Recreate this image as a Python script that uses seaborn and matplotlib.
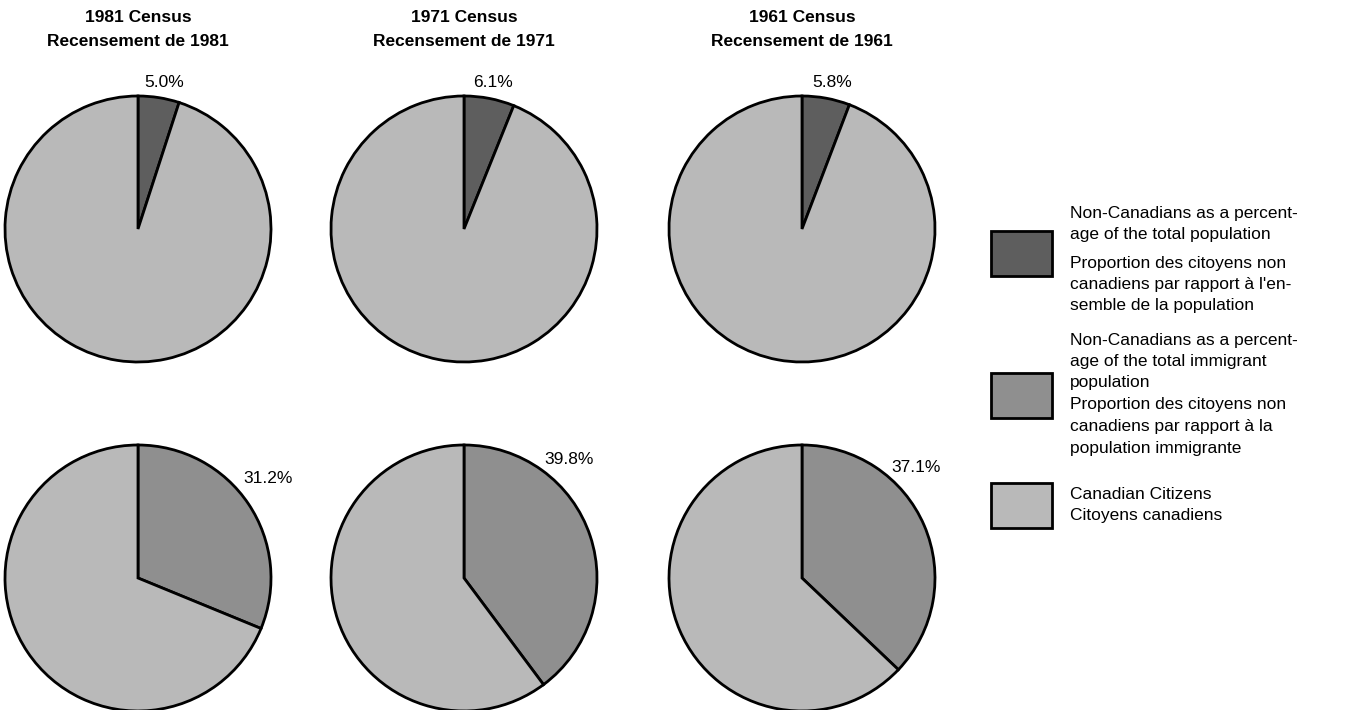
import matplotlib
matplotlib.use("Agg")
import matplotlib.pyplot as plt
from matplotlib.patches import Rectangle
import seaborn as sns

# data
years = ['1981', '1971', '1961']
pct_total = [5.0, 6.1, 5.8]          # non-Canadians, % of total population
pct_immigrant = [31.2, 39.8, 37.1]   # non-Canadians, % of immigrant population

legend_blocks = [
    ['Non-Canadians as a percent-', 'age of the total population',
     None,
     'Proportion des citoyens non', "canadiens par rapport à l'en-", 'semble de la population'],
    ['Non-Canadians as a percent-', 'age of the total immigrant', 'population',
     'Proportion des citoyens non', 'canadiens par rapport à la', 'population immigrante'],
    ['Canadian Citizens', 'Citoyens canadiens'],
]

sns.set_theme(style='white')
plt.rcParams['font.family'] = ['Liberation Sans', 'DejaVu Sans']
plt.rcParams['text.color'] = 'black'

W, H = 1357, 710
col_dark = '#5e5e5e'
col_mid = '#8f8f8f'
col_light = '#b9b9b9'

fig = plt.figure(figsize=(W / 100, H / 100), dpi=100)
fig.patch.set_facecolor('white')


def pie_axes(cx, cy, r):
    # place a square axes by pixel centre (y measured from the top)
    return fig.add_axes([(cx - r) / W, (H - cy - r) / H, 2 * r / W, 2 * r / H])


def draw_pie(ax, pct, color, label_xy):
    wedges, _ = ax.pie([pct, 100 - pct], colors=[color, col_light],
                       startangle=90, counterclock=False, radius=1,
                       wedgeprops=dict(edgecolor='black', linewidth=2))
    for w in wedges:
        w.set_clip_on(False)
    ax.set_xlim(-1, 1)
    ax.set_ylim(-1, 1)
    ax.set_aspect('equal')
    ax.axis('off')
    ax.text(label_xy[0], label_xy[1], f'{pct:.1f}%', ha='center', va='center',
            fontsize=12.5, color='black')


centres_x = [138, 464, 802]
r = 133
top_label = [(0.2, 1.1), (0.22, 1.1), (0.23, 1.1)]
bot_label = [(0.98, 0.75), (0.79, 0.89), (0.86, 0.83)]

for i, yr in enumerate(years):
    ax = pie_axes(centres_x[i], 229, r)
    draw_pie(ax, pct_total[i], col_dark, top_label[i])
    ax.text(0, 1.59, f'{yr} Census', ha='center', va='center',
            fontsize=12.5, fontweight='bold', color='black')
    ax.text(0, 1.41, f'Recensement de {yr}', ha='center', va='center',
            fontsize=12.5, fontweight='bold', color='black')

    ax2 = pie_axes(centres_x[i], 578, r)
    draw_pie(ax2, pct_immigrant[i], col_mid, bot_label[i])

# legend, drawn by hand: swatch + stacked text lines
swatch_tops = [231, 373, 483]
swatch_cols = [col_dark, col_mid, col_light]
line_ys = [[212, 233, None, 262, 283, 304],
           [339, 360, 381, 403, 425, 447],
           [493, 514]]

for top, col, lines, ys in zip(swatch_tops, swatch_cols, legend_blocks, line_ys):
    fig.add_artist(Rectangle((991 / W, 1 - (top + 45) / H), 61 / W, 45 / H,
                             transform=fig.transFigure, facecolor=col,
                             edgecolor='black', linewidth=2))
    for txt, y in zip(lines, ys):
        if txt is None:
            continue
        fig.text(1070 / W, 1 - (y + 6) / H, txt, ha='left', va='baseline',
                 fontsize=12.5, color='black')

fig.savefig('out.png', dpi=100, facecolor='white')
